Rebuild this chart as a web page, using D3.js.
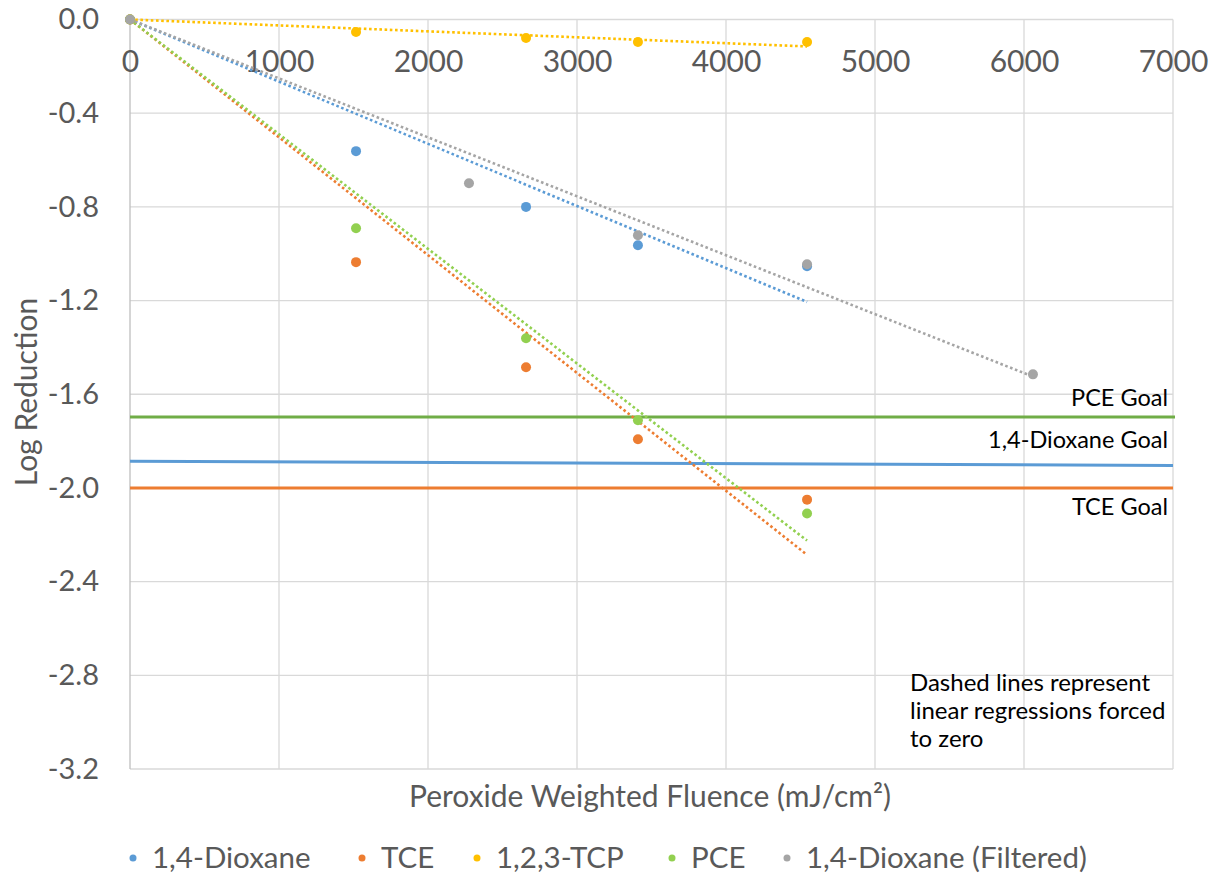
<!DOCTYPE html>
<html>
<head>
<meta charset="utf-8">
<script src="https://cdn.jsdelivr.net/npm/d3@7"></script>
<style>
  html, body { margin: 0; padding: 0; background: #fff; }
  svg { display: block; font-family: Lato, "Open Sans", sans-serif; }
</style>
</head>
<body>
<svg id="chart" width="1219" height="881"></svg>
<script>
// Log reduction vs. peroxide weighted fluence (mJ/cm²)
const seriesNames = ["1,4-Dioxane", "TCE", "1,2,3-TCP", "PCE", "1,4-Dioxane (Filtered)"];
const seriesColors = ["#5B9BD5", "#ED7D31", "#FFC000", "#92D050", "#A5A5A5"];

const fluenceMain = [0, 1517, 2658, 3409, 4544];
const fluenceFiltered = [0, 2275, 3409, 4544, 6060];

const dioxane = [0, -0.562, -0.800, -0.964, -1.053];
const tce = [0, -1.036, -1.485, -1.792, -2.050];
const tcp = [0, -0.053, -0.079, -0.096, -0.096];
const pce = [0, -0.891, -1.361, -1.711, -2.109];
const dioxaneFiltered = [0, -0.699, -0.921, -1.045, -1.515];

const xTicks = [0, 1000, 2000, 3000, 4000, 5000, 6000, 7000];
const yTicks = [0, -0.4, -0.8, -1.2, -1.6, -2.0, -2.4, -2.8, -3.2];

// Treatment goals (PCE, 1,4-Dioxane, TCE), each as start/end values over the fluence range
const goalNames = ["PCE Goal", "1,4-Dioxane Goal", "TCE Goal"];
const goalColors = ["#70AD47", "#5B9BD5", "#ED7D31"];
const goalStart = [-1.697, -1.886, -2.0];
const goalEnd = [-1.697, -1.904, -2.0];
const goalRange = [0, 7000];

const note = ["Dashed lines represent", "linear regressions forced", "to zero"];

const series = [
  { name: seriesNames[0], color: seriesColors[0], x: fluenceMain, y: dioxane },
  { name: seriesNames[1], color: seriesColors[1], x: fluenceMain, y: tce },
  { name: seriesNames[2], color: seriesColors[2], x: fluenceMain, y: tcp },
  { name: seriesNames[3], color: seriesColors[3], x: fluenceMain, y: pce },
  { name: seriesNames[4], color: seriesColors[4], x: fluenceFiltered, y: dioxaneFiltered }
];

const svg = d3.select("#chart");
const plotLeft = 130, plotRight = 1173, plotTop = 19.5, plotBottom = 769;

const x = d3.scaleLinear().domain([0, 7000]).range([plotLeft, plotRight]);
const y = d3.scaleLinear().domain([0, -3.2]).range([plotTop, plotBottom]);

const textColor = "#595959";
const gridColor = "#D9D9D9";

// Gridlines
svg.append("g").selectAll("line").data(yTicks).join("line")
  .attr("x1", plotLeft).attr("x2", plotRight)
  .attr("y1", d => y(d)).attr("y2", d => y(d))
  .attr("stroke", gridColor).attr("stroke-width", 1.3);
svg.append("g").selectAll("line").data(xTicks.slice(1)).join("line")
  .attr("x1", d => x(d)).attr("x2", d => x(d))
  .attr("y1", plotTop).attr("y2", plotBottom)
  .attr("stroke", gridColor).attr("stroke-width", 1.3);

// Vertical axis line at x = 0
svg.append("line")
  .attr("x1", x(0)).attr("x2", x(0)).attr("y1", plotTop).attr("y2", plotBottom)
  .attr("stroke", "#BFBFBF").attr("stroke-width", 1.3);

// Y tick labels
const yAxis = d3.axisLeft(y).tickValues(yTicks).tickSize(0).tickPadding(0)
  .tickFormat(d => d3.format(".1f")(d).replace("−", "-"));
const gy = svg.append("g").attr("transform", `translate(${plotLeft - 31},0)`).call(yAxis);
gy.select(".domain").remove();
gy.selectAll("text").attr("fill", textColor).attr("font-size", 29).attr("font-family", "Lato, sans-serif");

// X tick labels, placed just below the zero line
const xAxis = d3.axisBottom(x).tickValues(xTicks).tickFormat(d3.format("d")).tickSize(0).tickPadding(0);
const gx = svg.append("g").attr("transform", `translate(0,${y(0) + 31})`).call(xAxis);
gx.select(".domain").remove();
gx.selectAll("text").attr("fill", textColor).attr("font-size", 30).attr("font-family", "Lato, sans-serif");

// Goal lines
goalNames.forEach((g, i) => {
  svg.append("line")
    .attr("x1", x(goalRange[0])).attr("x2", x(goalRange[1]) + (i === 0 ? 2 : 0))
    .attr("y1", y(goalStart[i])).attr("y2", y(goalEnd[i]))
    .attr("stroke", goalColors[i]).attr("stroke-width", 3);
});

// Goal labels
const goalLabelY = [398, 440, 507];
svg.append("g").selectAll("text").data(goalNames).join("text")
  .attr("x", 1168).attr("y", (d, i) => goalLabelY[i] + 8)
  .attr("text-anchor", "end").attr("font-size", 23.5).attr("fill", "#000")
  .text(d => d);

// Regression lines forced through the origin: slope = Σxy / Σx²
series.forEach(s => {
  const sxy = d3.sum(s.x, (v, i) => v * s.y[i]);
  const sxx = d3.sum(s.x, v => v * v);
  const slope = sxy / sxx;
  const xMax = d3.max(s.x);
  svg.append("line")
    .attr("x1", x(0)).attr("y1", y(0))
    .attr("x2", x(xMax)).attr("y2", y(slope * xMax))
    .attr("stroke", s.color).attr("stroke-width", 2.6)
    .attr("stroke-dasharray", "2.6,2.6");
});

// Data points
series.forEach(s => {
  svg.append("g").selectAll("circle").data(s.x.map((v, i) => [v, s.y[i]])).join("circle")
    .attr("cx", d => x(d[0])).attr("cy", d => y(d[1]))
    .attr("r", 5).attr("fill", s.color);
});

// Axis titles
svg.append("text")
  .attr("x", 650).attr("y", 807).attr("text-anchor", "middle")
  .attr("font-size", 30).attr("fill", textColor)
  .text("Peroxide Weighted Fluence (mJ/cm²)");
svg.append("text")
  .attr("transform", "translate(37,392) rotate(-90)").attr("text-anchor", "middle")
  .attr("font-size", 30).attr("fill", textColor)
  .text("Log Reduction");

// Note
svg.append("g").selectAll("text").data(note).join("text")
  .attr("x", 910).attr("y", (d, i) => 691 + i * 28)
  .attr("font-size", 24).attr("fill", "#000")
  .text(d => d);

// Legend
const legendX = [133, 362, 477, 672, 787];
const legend = svg.append("g").selectAll("g").data(series).join("g")
  .attr("transform", (d, i) => `translate(${legendX[i]},858)`);
legend.append("circle").attr("r", 3.5).attr("fill", d => d.color);
legend.append("text").attr("x", 19).attr("y", 10)
  .attr("font-size", 29.5).attr("fill", textColor).text(d => d.name);
</script>
</body>
</html>
